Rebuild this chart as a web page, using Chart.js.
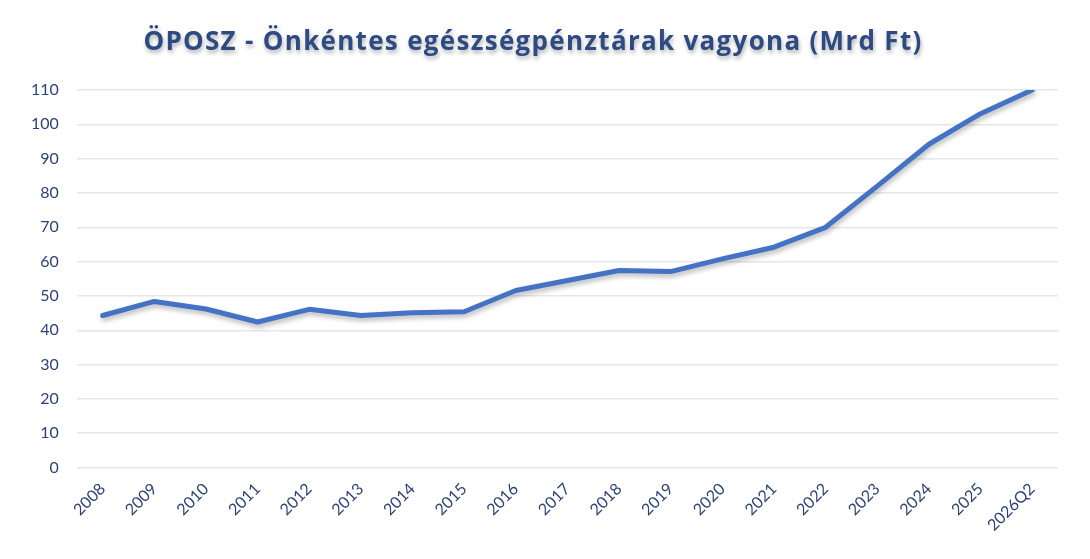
<!DOCTYPE html>
<html>
<head>
<meta charset="utf-8">
<script src="https://cdn.jsdelivr.net/npm/chart.js@4.4.0/dist/chart.umd.min.js"></script>
<style>
  html, body { margin: 0; padding: 0; background: #ffffff; }
  #wrap { width: 1090px; height: 559px; position: relative; }
</style>
</head>
<body>
<div id="wrap"><canvas id="c"></canvas></div>
<script>
const categories = ["2008","2009","2010","2011","2012","2013","2014","2015","2016","2017","2018","2019","2020","2021","2022","2023","2024","2025","2026Q2"];
const assets = [44.3, 48.4, 46.2, 42.4, 46.1, 44.3, 45.1, 45.4, 51.6, 54.5, 57.4, 57.1, 60.8, 64.2, 70.0, 82.0, 94.2, 103.1, 110.0];
const yTicks = [0, 10, 20, 30, 40, 50, 60, 70, 80, 90, 100, 110];
const titleText = "ÖPOSZ - Önkéntes egészségpénztárak vagyona (Mrd Ft)";

const shadowPlugin = {
  id: 'lineShadow',
  beforeDatasetsDraw(chart) {
    const ctx = chart.ctx;
    ctx.save();
    ctx.shadowColor = 'rgba(0,0,0,0.28)';
    ctx.shadowBlur = 5;
    ctx.shadowOffsetX = 1;
    ctx.shadowOffsetY = 3;
  },
  afterDatasetsDraw(chart) {
    chart.ctx.restore();
  }
};

const titlePlugin = {
  id: 'shadowTitle',
  afterDraw(chart) {
    const ctx = chart.ctx;
    ctx.save();
    ctx.font = 'bold 26px "Open Sans"';
    ctx.fillStyle = '#2E4A83';
    ctx.textAlign = 'center';
    ctx.textBaseline = 'middle';
    ctx.shadowColor = 'rgba(0,0,0,0.3)';
    ctx.shadowBlur = 4;
    ctx.shadowOffsetX = 1;
    ctx.shadowOffsetY = 3;
    if ('letterSpacing' in ctx) ctx.letterSpacing = '1.3px';
    ctx.fillText(titleText, 533, 43);
    ctx.restore();
  }
};

new Chart(document.getElementById('c'), {
  type: 'line',
  data: {
    labels: categories,
    datasets: [{
      data: assets,
      borderColor: '#4472C4',
      borderWidth: 5,
      pointRadius: 0,
      pointHoverRadius: 0,
      fill: false,
      tension: 0,
      borderCapStyle: 'round',
      borderJoinStyle: 'round'
    }]
  },
  options: {
    responsive: true,
    maintainAspectRatio: false,
    animation: false,
    layout: { padding: { top: 90, right: 32, left: 13, bottom: 20 } },
    plugins: {
      legend: { display: false },
      title: { display: false },
      tooltip: { enabled: false }
    },
    scales: {
      x: {
        offset: true,
        grid: { display: false },
        border: { display: false },
        ticks: {
          color: '#2E4375',
          font: { family: 'Lato', size: 16 },
          maxRotation: 45,
          minRotation: 45,
          padding: 4
        }
      },
      y: {
        min: 0,
        max: 110,
        afterBuildTicks(axis) { axis.ticks = yTicks.map(v => ({ value: v })); },
        grid: { color: '#E6E6EC', lineWidth: 1.5, drawTicks: false },
        border: { display: false },
        ticks: {
          color: '#2E4375',
          font: { family: 'Lato', size: 16 },
          padding: 18
        }
      }
    }
  },
  plugins: [shadowPlugin, titlePlugin]
});
</script>
</body>
</html>
